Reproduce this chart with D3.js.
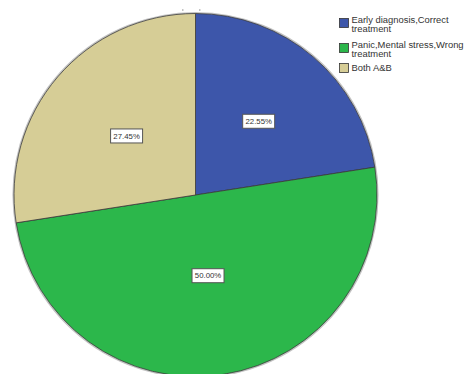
<!DOCTYPE html>
<html>
<head>
<meta charset="utf-8">
<script src="https://cdn.jsdelivr.net/npm/d3@7"></script>
<style>
  html, body { margin: 0; padding: 0; background: #fff; }
  svg { display: block; font-family: "Liberation Sans", Arial, sans-serif; }
</style>
</head>
<body>
<svg id="chart" width="468" height="374"></svg>
<script>
// Responses and their share of the total (percent)
const categories = [
  ["Early diagnosis,Correct", "treatment"],
  ["Panic,Mental stress,Wrong", "treatment"],
  ["Both A&B"]
];
const values = [22.55, 50.00, 27.45];
const sliceColors = ["#3d56aa", "#2cb74b", "#d6cd96"];

const svg = d3.select("#chart");
const cx = 195.5, cy = 195, radius = 181.5;

const pie = d3.pie().sort(null).value(d => d)(values);
const arc = d3.arc().innerRadius(0).outerRadius(radius);

// label distance from the centre, as a fraction of the radius, per slice
const labelFrac = [0.535, 0.45, 0.5];

const g = svg.append("g").attr("transform", `translate(${cx},${cy})`);

// faint shadow around the rim
g.append("circle")
  .attr("r", radius + 0.8)
  .attr("fill", "none")
  .attr("stroke", "#999")
  .attr("stroke-width", 1.6)
  .attr("opacity", 0.6);

g.selectAll("path.slice")
  .data(pie)
  .join("path")
  .attr("class", "slice")
  .attr("d", arc)
  .attr("fill", (d, i) => sliceColors[i])
  .attr("stroke", "#3a3a3a")
  .attr("stroke-width", 0.8);

// percentage labels in boxed tags inside each slice
const fmt = d3.format(".2f");
const labels = g.selectAll("g.lbl")
  .data(pie)
  .join("g")
  .attr("class", "lbl")
  .attr("transform", (d, i) => {
    const r = radius * labelFrac[i];
    const [x, y] = d3.arc().innerRadius(r).outerRadius(r).centroid(d);
    return `translate(${x},${y})`;
  });

labels.append("rect")
  .attr("x", -16).attr("y", -7)
  .attr("width", 32).attr("height", 14)
  .attr("fill", "#fff")
  .attr("stroke", "#555")
  .attr("stroke-width", 1);

labels.append("text")
  .attr("text-anchor", "middle")
  .attr("dy", "0.35em")
  .attr("font-size", 7.8)
  .attr("fill", "#333")
  .text(d => fmt(d.data) + "%");

// small marks above the pie
svg.append("g").selectAll("line")
  .data([182, 199])
  .join("line")
  .attr("x1", d => d).attr("x2", d => d + 1.5)
  .attr("y1", 10).attr("y2", 10)
  .attr("stroke", "#888").attr("stroke-width", 1);

// legend
const legendY = [23, 48, 68];
const legend = svg.append("g").selectAll("g")
  .data(categories)
  .join("g")
  .attr("transform", (d, i) => `translate(339,${legendY[i]})`);

legend.append("rect")
  .attr("x", 0.5).attr("y", -4.5)
  .attr("width", 9).attr("height", 9)
  .attr("fill", (d, i) => sliceColors[i])
  .attr("stroke", "#333")
  .attr("stroke-width", 0.8);

// each legend line is its own text element, slightly widened
legend.each(function(lines) {
  const y0 = lines.length > 1 ? -0.5 : 3.2;
  d3.select(this).append("g")
    .attr("transform", "translate(12.5,0) scale(1.12,1)")
    .selectAll("text")
    .data(lines)
    .join("text")
    .attr("x", 0)
    .attr("y", (s, k) => y0 + k * 9.4)
    .attr("font-size", 8.4)
    .attr("fill", "#333")
    .text(s => s);
});
</script>
</body>
</html>
